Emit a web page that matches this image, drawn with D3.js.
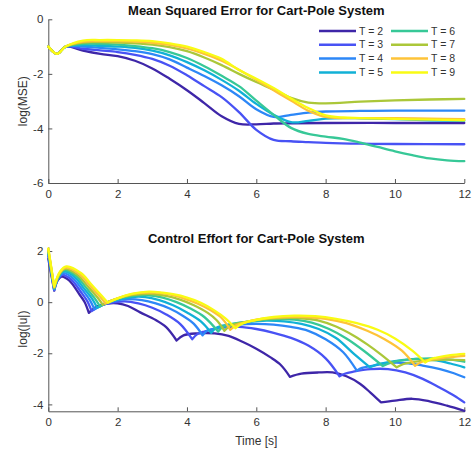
<!DOCTYPE html>
<html>
<head>
<meta charset="utf-8">
<script src="https://cdn.jsdelivr.net/npm/d3@7"></script>
<style>
  html, body { margin: 0; padding: 0; background: #fff; }
  svg { display: block; font-family: 'Liberation Sans', Arial, sans-serif; }
</style>
</head>
<body>
<svg id="chart"></svg>
<script>
// horizon lengths and colours (parula)
const horizons = [2, 3, 4, 5, 6, 7, 8, 9];
const colors = ['#3e26a8', '#4852f4', '#2d87f7', '#11b1d6', '#37c897', '#abc739', '#fec338', '#f9fb14'];
const xTicks = [0, 2, 4, 6, 8, 10, 12];
const mseTicks = [-6, -4, -2, 0];
const effortTicks = [-4, -2, 0, 2];

// log(MSE), [t, value]
const mse2 = [[0,-1],[0.25,-1.27],[0.5,-1.0],[1,-1.15],[1.5,-1.27],[2,-1.35],[2.5,-1.52],[3,-1.8],[3.5,-2.18],[4,-2.6],[4.5,-3.07],[5,-3.55],[5.5,-3.83],[6,-3.85],[6.5,-3.82],[7,-3.81],[8,-3.8],[10,-3.8],[12,-3.8]];
const mse3 = [[0,-1],[0.25,-1.27],[0.5,-1.0],[1,-1.08],[1.5,-1.14],[2,-1.2],[2.5,-1.3],[3,-1.45],[3.5,-1.7],[4,-2.05],[4.5,-2.45],[5,-2.85],[5.5,-3.4],[6,-4.05],[6.5,-4.42],[7,-4.47],[7.5,-4.5],[8,-4.53],[9,-4.56],[10,-4.57],[12,-4.58]];
const mse4 = [[0,-1],[0.25,-1.27],[0.5,-1.0],[1,-1.0],[1.5,-1.05],[2,-1.1],[2.5,-1.17],[3,-1.28],[3.5,-1.47],[4,-1.77],[4.5,-2.08],[5,-2.42],[5.5,-2.82],[6,-3.3],[6.5,-3.58],[7,-3.5],[7.5,-3.42],[8,-3.38],[9,-3.36],[10,-3.35],[12,-3.35]];
const mse5 = [[0,-1],[0.25,-1.27],[0.5,-1.0],[1,-0.95],[1.5,-0.97],[2,-1.0],[2.5,-1.05],[3,-1.15],[3.5,-1.32],[4,-1.57],[4.5,-1.87],[5,-2.22],[5.5,-2.62],[6,-3.1],[6.5,-3.5],[7,-3.77],[7.5,-3.72],[8,-3.64],[8.5,-3.62],[9,-3.63],[10,-3.66],[11,-3.7],[12,-3.72]];
const mse6 = [[0,-1],[0.25,-1.27],[0.5,-1.0],[1,-0.9],[1.5,-0.9],[2,-0.93],[2.5,-0.98],[3,-1.06],[3.5,-1.2],[4,-1.42],[4.5,-1.72],[5,-2.07],[5.5,-2.45],[6,-2.98],[6.5,-3.5],[7,-3.98],[7.5,-4.2],[8,-4.3],[8.5,-4.38],[9,-4.52],[9.5,-4.68],[10,-4.84],[10.5,-4.98],[11,-5.1],[11.5,-5.17],[12,-5.2]];
const mse7 = [[0,-1],[0.25,-1.27],[0.5,-1.0],[1,-0.85],[1.5,-0.84],[2,-0.85],[2.5,-0.88],[3,-0.93],[3.5,-1.02],[4,-1.17],[4.5,-1.4],[5,-1.68],[5.5,-2.0],[6,-2.3],[6.5,-2.58],[7,-2.88],[7.5,-3.05],[8,-3.08],[9,-3.02],[10,-2.97],[11,-2.94],[12,-2.92]];
const mse8 = [[0,-1],[0.25,-1.27],[0.5,-1.0],[1,-0.82],[1.5,-0.8],[2,-0.8],[2.5,-0.82],[3,-0.86],[3.5,-0.94],[4,-1.07],[4.5,-1.27],[5,-1.52],[5.5,-1.85],[6,-2.22],[6.5,-2.6],[7,-2.98],[7.5,-3.35],[8,-3.58],[8.5,-3.62],[9,-3.62],[10,-3.62],[11,-3.64],[12,-3.66]];
const mse9 = [[0,-1],[0.25,-1.27],[0.5,-1.0],[1,-0.78],[1.5,-0.76],[2,-0.76],[2.5,-0.77],[3,-0.8],[3.5,-0.88],[4,-1.0],[4.5,-1.2],[5,-1.45],[5.5,-1.86],[6,-2.18],[6.5,-2.52],[7,-2.9],[7.5,-3.25],[8,-3.52],[8.5,-3.6],[9,-3.62],[10,-3.65],[11,-3.68],[12,-3.7]];

// log(|u|), [t, value]; cusp times are where |u| hits zero
const effort2 = [[0,1.7],[0.17,0.45],[0.27,0.85],[0.38,1.0],[0.6,0.85],[0.9,0.3],[1.05,0.0],[1.17,-0.42],[1.4,-0.17],[1.7,-0.06],[2.0,-0.05],[2.3,-0.15],[2.65,-0.4],[3.1,-0.7],[3.4,-0.98],[3.7,-1.5],[3.9,-1.3],[4.3,-1.22],[4.8,-1.22],[5.2,-1.32],[5.6,-1.55],[6.0,-1.82],[6.4,-2.15],[6.7,-2.45],[6.97,-2.92],[7.3,-2.8],[7.8,-2.75],[8.2,-2.75],[8.6,-2.9],[9.0,-3.2],[9.3,-3.55],[9.6,-3.92],[10.0,-3.85],[10.5,-3.78],[11.0,-3.88],[11.5,-4.05],[12,-4.25]];
const effort3 = [[0,1.8],[0.17,0.47],[0.28,0.9],[0.4,1.07],[0.65,0.9],[0.95,0.38],[1.12,0.05],[1.25,-0.35],[1.5,-0.15],[1.8,-0.03],[2.2,0.03],[2.6,-0.05],[3.0,-0.22],[3.4,-0.48],[3.8,-0.85],[4.15,-1.45],[4.3,-1.25],[4.5,-1.15],[5.0,-1.0],[5.5,-0.97],[6.0,-1.05],[6.5,-1.2],[7.0,-1.4],[7.5,-1.7],[8.0,-2.2],[8.4,-2.9],[8.55,-2.8],[8.8,-2.72],[9.3,-2.62],[9.8,-2.62],[10.3,-2.75],[10.8,-3.0],[11.3,-3.35],[11.7,-3.65],[12,-3.92]];
const effort4 = [[0,1.88],[0.17,0.5],[0.29,0.95],[0.42,1.13],[0.7,0.95],[1.0,0.45],[1.2,0.08],[1.33,-0.28],[1.6,-0.08],[1.9,0.05],[2.3,0.12],[2.7,0.08],[3.1,-0.05],[3.5,-0.25],[3.9,-0.55],[4.2,-0.85],[4.45,-1.3],[4.6,-1.1],[5.0,-1.0],[5.5,-0.88],[6.0,-0.85],[6.5,-0.88],[7.0,-0.97],[7.5,-1.12],[8.0,-1.45],[8.5,-1.95],[8.9,-2.68],[9.05,-2.57],[9.3,-2.5],[9.8,-2.38],[10.3,-2.38],[10.8,-2.48],[11.3,-2.62],[11.7,-2.78],[12,-2.94]];
const effort5 = [[0,1.95],[0.17,0.52],[0.3,1.0],[0.44,1.2],[0.75,1.0],[1.05,0.5],[1.27,0.12],[1.41,-0.22],[1.7,-0.03],[2.0,0.1],[2.4,0.2],[2.8,0.2],[3.2,0.08],[3.6,-0.12],[4.0,-0.4],[4.4,-0.75],[4.7,-1.2],[4.85,-1.0],[5.2,-0.88],[5.7,-0.78],[6.3,-0.72],[6.8,-0.75],[7.3,-0.85],[7.8,-1.05],[8.3,-1.4],[8.8,-2.0],[9.28,-2.55],[9.45,-2.45],[9.7,-2.38],[10.2,-2.27],[10.7,-2.22],[11.2,-2.28],[11.6,-2.4],[12,-2.55]];
const effort6 = [[0,2.0],[0.17,0.55],[0.31,1.05],[0.46,1.25],[0.8,1.03],[1.1,0.55],[1.34,0.15],[1.49,-0.16],[1.75,0.02],[2.1,0.17],[2.5,0.26],[2.9,0.27],[3.3,0.18],[3.7,0.0],[4.1,-0.25],[4.5,-0.58],[4.9,-1.15],[5.05,-0.95],[5.4,-0.83],[6.0,-0.72],[6.6,-0.66],[7.1,-0.68],[7.6,-0.8],[8.1,-1.05],[8.6,-1.42],[9.1,-1.9],[9.65,-2.5],[9.85,-2.38],[10.1,-2.3],[10.6,-2.22],[11.1,-2.2],[11.6,-2.25],[12,-2.33]];
const effort7 = [[0,2.05],[0.17,0.57],[0.32,1.1],[0.48,1.3],[0.85,1.06],[1.15,0.6],[1.42,0.18],[1.57,-0.1],[1.8,0.05],[2.2,0.23],[2.6,0.31],[3.0,0.32],[3.4,0.25],[3.8,0.1],[4.2,-0.12],[4.6,-0.42],[4.85,-0.7],[5.08,-1.12],[5.25,-0.92],[5.6,-0.8],[6.2,-0.66],[6.8,-0.62],[7.3,-0.63],[7.8,-0.72],[8.3,-0.95],[8.8,-1.3],[9.2,-1.65],[9.6,-2.05],[10.05,-2.55],[10.25,-2.42],[10.5,-2.35],[11.0,-2.28],[11.5,-2.25],[12,-2.27]];
const effort8 = [[0,2.08],[0.17,0.6],[0.33,1.15],[0.5,1.35],[0.9,1.1],[1.2,0.65],[1.5,0.2],[1.65,-0.05],[1.9,0.1],[2.3,0.28],[2.7,0.36],[3.1,0.37],[3.5,0.3],[3.9,0.15],[4.3,-0.05],[4.7,-0.33],[5.0,-0.62],[5.25,-1.08],[5.42,-0.9],[5.7,-0.78],[6.3,-0.63],[6.9,-0.58],[7.4,-0.58],[8.0,-0.65],[8.6,-0.82],[9.2,-1.12],[9.7,-1.45],[10.2,-1.9],[10.58,-2.49],[10.75,-2.35],[10.9,-2.28],[11.4,-2.18],[12,-2.1]];
const effort9 = [[0,2.1],[0.17,0.62],[0.34,1.2],[0.52,1.4],[0.95,1.13],[1.25,0.68],[1.56,0.22],[1.72,-0.02],[2.0,0.15],[2.4,0.32],[2.9,0.41],[3.3,0.37],[3.6,0.31],[4.0,0.18],[4.4,-0.02],[4.8,-0.33],[5.1,-0.62],[5.4,-1.02],[5.58,-0.85],[5.9,-0.72],[6.5,-0.58],[7.1,-0.53],[7.7,-0.55],[8.3,-0.65],[8.9,-0.82],[9.5,-1.08],[10.0,-1.42],[10.5,-1.9],[10.87,-2.36],[11.05,-2.22],[11.2,-2.17],[11.6,-2.07],[12,-2.02]];
const cusps = [
  [0.17, 1.17, 3.7, 6.97, 9.6],
  [0.17, 1.25, 4.15, 8.4],
  [0.17, 1.33, 4.45, 8.9],
  [0.17, 1.41, 4.7, 9.28],
  [0.17, 1.49, 4.9, 9.65],
  [0.17, 1.57, 5.08, 10.05],
  [0.17, 1.65, 5.25, 10.58],
  [0.17, 1.72, 5.4, 10.87],
];

const mseData = [mse2, mse3, mse4, mse5, mse6, mse7, mse8, mse9];
const effortData = [effort2, effort3, effort4, effort5, effort6, effort7, effort8, effort9];

const W = 475, H = 454;
const axisColor = '#555';
const textColor = '#333';
const lineW = 2.3;

const svg = d3.select('#chart').attr('width', W).attr('height', H);

const x = d3.scaleLinear().domain([0, 12]).range([48.3, 464.3]);
const yTop = d3.scaleLinear().domain([-6, 0]).range([183, 19.3]);
const yBot = d3.scaleLinear().domain([-4.27, 2.17]).range([411.3, 246.7]);

// split a series at its cusps so each arc is smoothed on its own
function splitAt(points, cuts) {
  const segs = [];
  let cur = [];
  points.forEach(p => {
    cur.push(p);
    if (cuts.includes(p[0]) && cur.length > 1) {
      segs.push(cur);
      cur = [p];
    }
  });
  if (cur.length > 1) segs.push(cur);
  return segs;
}

function drawAxes(yScale, ticks, yLabel, title, titleY) {
  const bottom = yScale.range()[0];
  const gx = svg.append('g')
    .attr('transform', `translate(0,${bottom})`)
    .call(d3.axisBottom(x).tickValues(xTicks).tickSizeInner(-4).tickSizeOuter(0).tickPadding(7));
  const gy = svg.append('g')
    .attr('transform', `translate(${x.range()[0]},0)`)
    .call(d3.axisLeft(yScale).tickValues(ticks).tickSizeInner(-4).tickSizeOuter(0).tickPadding(5)
      .tickFormat(d => d < 0 ? '-' + Math.abs(d) : d));
  [gx, gy].forEach(g => {
    g.select('.domain').attr('stroke', axisColor);
    g.selectAll('.tick line').attr('stroke', axisColor);
    g.selectAll('.tick text')
      .attr('fill', textColor)
      .style('font-size', '11.5px')
      .style('font-family', "'Liberation Sans', Arial, sans-serif");
  });

  svg.append('text')
    .attr('transform', `translate(23,${(yScale.range()[0] + yScale.range()[1]) / 2}) rotate(-90)`)
    .attr('text-anchor', 'middle')
    .attr('dy', '0.35em')
    .attr('fill', textColor)
    .style('font-size', '12px')
    .text(yLabel);

  svg.append('text')
    .attr('x', (x.range()[0] + x.range()[1]) / 2)
    .attr('y', titleY)
    .attr('text-anchor', 'middle')
    .attr('fill', '#111')
    .style('font-size', '13px')
    .style('font-weight', 'bold')
    .text(title);
}

drawAxes(yTop, mseTicks, 'log(MSE)', 'Mean Squared Error for Cart-Pole System', 14.5);
drawAxes(yBot, effortTicks, 'log(|u|)', 'Control Effort for Cart-Pole System', 242.5);

svg.append('text')
  .attr('x', (x.range()[0] + x.range()[1]) / 2)
  .attr('y', 445)
  .attr('text-anchor', 'middle')
  .attr('fill', textColor)
  .style('font-size', '12px')
  .text('Time [s]');

const lineTop = d3.line()
  .x(d => x(d[0]))
  .y(d => yTop(d[1]))
  .curve(d3.curveCatmullRom.alpha(0.5));

const lineBot = d3.line()
  .x(d => x(d[0]))
  .y(d => yBot(d[1]))
  .curve(d3.curveCatmullRom.alpha(0.5));

svg.append('g')
  .selectAll('path')
  .data(mseData)
  .enter()
  .append('path')
  .attr('d', d => lineTop(d))
  .attr('fill', 'none')
  .attr('stroke', (d, i) => colors[i])
  .attr('stroke-width', lineW)
  .attr('stroke-linejoin', 'round')
  .attr('stroke-linecap', 'round');

svg.append('g')
  .selectAll('path')
  .data(effortData)
  .enter()
  .append('path')
  .attr('d', (d, i) => splitAt(d, cusps[i]).map(s => lineBot(s)).join(''))
  .attr('fill', 'none')
  .attr('stroke', (d, i) => colors[i])
  .attr('stroke-width', lineW)
  .attr('stroke-linejoin', 'round')
  .attr('stroke-linecap', 'round');

// legend, two columns of four
const legend = svg.append('g');
horizons.forEach((T, i) => {
  const col = Math.floor(i / 4);
  const row = i % 4;
  const lx = col === 0 ? 319 : 391;
  const ly = 31 + row * 13.8;
  legend.append('line')
    .attr('x1', lx).attr('x2', lx + 37)
    .attr('y1', ly).attr('y2', ly)
    .attr('stroke', colors[i])
    .attr('stroke-width', 2.5);
  legend.append('text')
    .attr('x', lx + 40)
    .attr('y', ly)
    .attr('dy', '0.35em')
    .attr('fill', textColor)
    .style('font-size', '10.5px')
    .text(`T = ${T}`);
});
</script>
</body>
</html>
